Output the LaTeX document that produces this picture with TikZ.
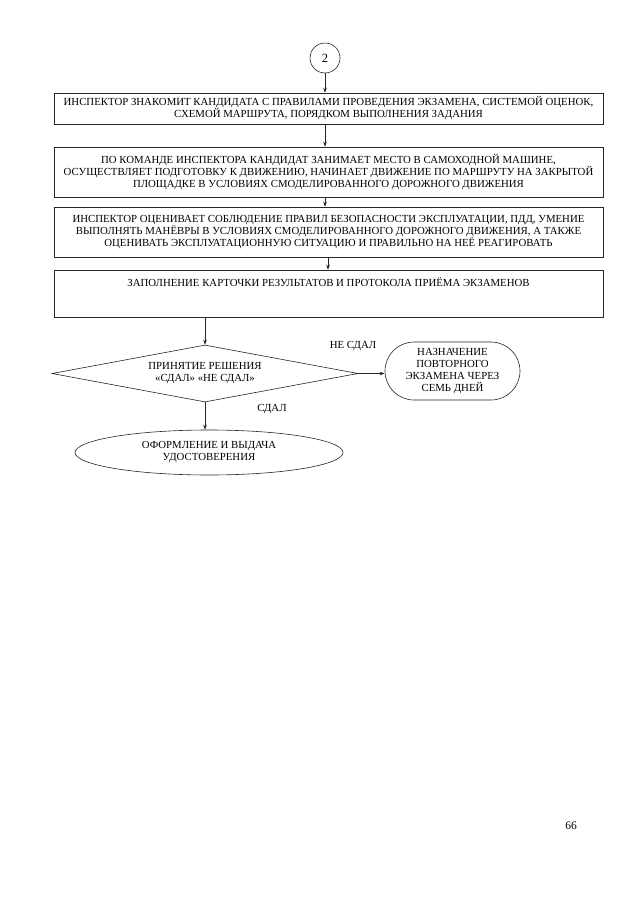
\documentclass[tikz,border=0pt]{standalone}
\usepackage{fontspec}
\setmainfont{Liberation Serif}
\usetikzlibrary{arrows.meta,shapes.geometric,shapes.misc}
\begin{document}
\begin{tikzpicture}[x=1pt,y=-1pt,
  every node/.style={font=\fontsize{10.8}{12}\selectfont, align=center, inner sep=0pt},
  ln/.style={line width=0.6pt, draw=black!85},
  arr/.style={ln, -{Stealth[length=5pt,width=3.6pt]}},
  boxn/.style={ln, draw, rectangle, minimum width=549pt},
  lbl/.style={font=\fontsize{10.8}{12}\selectfont}]
\useasboundingbox (0,0) rectangle (640,905);
\node[ln, draw, circle, minimum size=30pt, font=\fontsize{12.5}{13}\selectfont] (c2) at (325,58) {2};
\node[boxn, minimum height=31pt] (b1) at (328.5,108.5) {ИНСПЕКТОР ЗНАКОМИТ КАНДИДАТА С ПРАВИЛАМИ ПРОВЕДЕНИЯ ЭКЗАМЕНА, СИСТЕМОЙ ОЦЕНОК,\\СХЕМОЙ МАРШРУТА, ПОРЯДКОМ ВЫПОЛНЕНИЯ ЗАДАНИЯ};
\node[boxn, minimum height=50pt] (b2) at (328.5,172) {ПО КОМАНДЕ ИНСПЕКТОРА КАНДИДАТ ЗАНИМАЕТ МЕСТО В САМОХОДНОЙ МАШИНЕ,\\ОСУЩЕСТВЛЯЕТ ПОДГОТОВКУ К ДВИЖЕНИЮ, НАЧИНАЕТ ДВИЖЕНИЕ ПО МАРШРУТУ НА ЗАКРЫТОЙ\\ПЛОЩАДКЕ В УСЛОВИЯХ СМОДЕЛИРОВАННОГО ДОРОЖНОГО ДВИЖЕНИЯ};
\node[boxn, minimum height=50pt] (b3) at (328.5,232) {ИНСПЕКТОР ОЦЕНИВАЕТ СОБЛЮДЕНИЕ ПРАВИЛ БЕЗОПАСНОСТИ ЭКСПЛУАТАЦИИ, ПДД, УМЕНИЕ\\ВЫПОЛНЯТЬ МАНЁВРЫ В УСЛОВИЯХ СМОДЕЛИРОВАННОГО ДОРОЖНОГО ДВИЖЕНИЯ, А ТАКЖЕ\\ОЦЕНИВАТЬ ЭКСПЛУАТАЦИОННУЮ СИТУАЦИЮ И ПРАВИЛЬНО НА НЕЁ РЕАГИРОВАТЬ};
\node[boxn, minimum height=47pt] (b4) at (328.5,293.5) {};
\node (b4t) at (328.5,282) {ЗАПОЛНЕНИЕ КАРТОЧКИ РЕЗУЛЬТАТОВ И ПРОТОКОЛА ПРИЁМА ЭКЗАМЕНОВ};
\node[ln, draw, diamond, aspect=5.37, minimum width=306pt, minimum height=57pt, inner sep=0pt] (d) at (205,373.5) {};
\node at (205,373.5) {ПРИНЯТИЕ РЕШЕНИЯ\\«СДАЛ» «НЕ СДАЛ»};
\node[ln, draw, rounded rectangle, minimum width=135pt, minimum height=58pt] (r) at (452.5,371) {НАЗНАЧЕНИЕ\\ПОВТОРНОГО\\ЭКЗАМЕНА ЧЕРЕЗ\\СЕМЬ ДНЕЙ};
\node[ln, draw, ellipse, minimum width=268pt, minimum height=45pt] (e) at (209,452.5) {ОФОРМЛЕНИЕ И ВЫДАЧА\\УДОСТОВЕРЕНИЯ};
\node[lbl] (l1) at (353,346) {НЕ СДАЛ};
\node[lbl] (l2) at (272,409) {СДАЛ};
\node[font=\fontsize{11.5}{12}\selectfont] (pg) at (571,826) {66};
\draw[arr] (c2.south) -- (c2.south |- b1.north);
\draw[arr] (b1.south -| c2) -- (b2.north -| c2);
\draw[arr] (b2.south -| c2) -- (b3.north -| c2);
\draw[arr] ([xshift=3pt]b3.south -| c2) -- ([xshift=3pt]b4.north -| c2);
\draw[arr] (b4.south -| d.north) -- (d.north);
\draw[arr] (d.east) -- (r.west |- d.east);
\draw[arr] (d.south) -- (d.south |- e.north);
\end{tikzpicture}
\end{document}
